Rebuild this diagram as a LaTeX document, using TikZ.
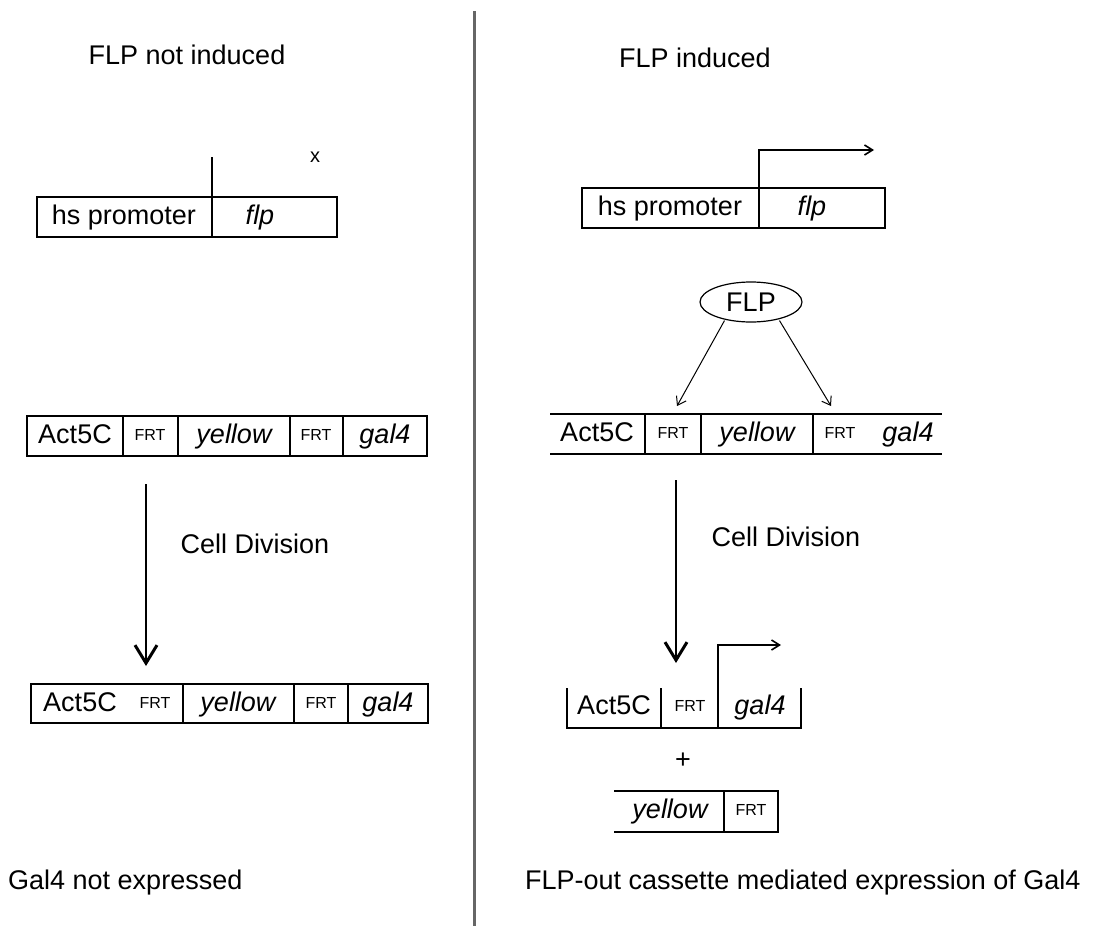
\documentclass[tikz,border=0pt]{standalone}
\usepackage{fontspec}
\setmainfont{Liberation Sans}
\usetikzlibrary{arrows.meta,shapes.geometric}
\begin{document}
\begin{tikzpicture}[x=1pt,y=-1pt,
  lbl/.style={inner sep=0pt,text height=19pt,text depth=5pt,font=\fontsize{27}{30}\selectfont},
  frt/.style={inner sep=0pt,text height=11pt,text depth=2pt,font=\fontsize{16}{18}\selectfont},
  gene/.style={inner sep=0pt,text height=19pt,text depth=5pt,font=\fontsize{27}{30}\selectfont\itshape},
  boxline/.style={line width=2pt},
  bigarrow/.style={line width=2.8pt,-{Straight Barb[length=18pt,width=22pt,line width=3pt]}},
  thinarrow/.style={line width=1pt,-{Straight Barb[length=8pt,width=11pt]}},
  promarrow/.style={line width=1.6pt,-{Straight Barb[length=8pt,width=10pt]}}
]
\useasboundingbox (0,0) rectangle (1112,926);
\fill[white] (0,0) rectangle (1112,926);

% divider
\draw[line width=3pt,gray!80!black] (474,11) -- (474,926);

% ===== Left side =====
\node[lbl] (t1) at (187,57) {FLP not induced};
% hs promoter box (not induced)
\draw[boxline] (37,197) rectangle (337,237);
\draw[line width=1.2pt] (212,237) -- (212,157);
\node[lbl] (hs1) at (124,217) {hs promoter};
\node[gene] (flp1) at (260,217) {flp};
\node[inner sep=0pt,font=\fontsize{20}{22}\selectfont] (x1) at (315,157) {x};

% 5-segment cassette
\draw[boxline] (27,416) rectangle (427,456);
\foreach \x in {123,178,290,343} \draw[boxline] (\x,416) -- (\x,456);
\node[lbl] (a1) at (75,436) {Act5C};
\node[frt] (f1a) at (150,436) {FRT};
\node[gene] (y1) at (234,436) {yellow};
\node[frt] (f1b) at (316,436) {FRT};
\node[gene] (g1) at (385,436) {gal4};

\coordinate (arrL1) at (146,484);
\coordinate (arrL2) at (146,666);
\draw[bigarrow] (arrL1) -- (arrL2);
\node[lbl] (cd1) at (255,546) {Cell Division};

% after division (no excision)
\draw[boxline] (31,684) rectangle (428,723);
\foreach \x in {183,294,348} \draw[boxline] (\x,684) -- (\x,723);
\node[lbl] (a2) at (80,704) {Act5C};
\node[frt] (f2a) at (155,704) {FRT};
\node[gene] (y2) at (238,704) {yellow};
\node[frt] (f2b) at (321,704) {FRT};
\node[gene] (g2) at (388,704) {gal4};

\node[lbl,anchor=west] (res1) at (8,882) {Gal4 not expressed};

% ===== Right side =====
\node[lbl] (t2) at (695,60) {FLP induced};
\draw[boxline] (582,188) rectangle (885,228);
\draw[boxline] (759,188) -- (759,228);
\node[lbl] (hs2) at (670,208) {hs promoter};
\node[gene] (flp2) at (812,208) {flp};
\coordinate (pr1) at (759,188);
\coordinate (pr2) at (874,150);
\draw[promarrow] (pr1) |- (pr2);

\node[draw,ellipse,line width=1.2pt,minimum width=102pt,minimum height=40pt,inner sep=0pt,font=\fontsize{27}{30}\selectfont] (flp) at (751,302) {FLP};
\coordinate (frt1) at (677,406);
\coordinate (frt2) at (831,406);
\draw[thinarrow] (flp.south west) ++(10,4) -- (frt1);
\draw[thinarrow] (flp.south east) ++(-8,4) -- (frt2);

% 5-segment cassette (right)
\draw[boxline] (550,414) -- (942,414);
\draw[boxline] (550,454) -- (942,454);
\foreach \x in {645,701,813} \draw[boxline] (\x,414) -- (\x,454);
\node[lbl] (a3) at (597,434) {Act5C};
\node[frt] (f3a) at (673,434) {FRT};
\node[gene] (y3) at (757,434) {yellow};
\node[frt] (f3b) at (840,434) {FRT};
\node[gene] (g3) at (908,434) {gal4};

\coordinate (arrR1) at (676,480);
\coordinate (arrR2) at (676,663);
\draw[bigarrow] (arrR1) -- (arrR2);
\node[lbl] (cd2) at (786,539) {Cell Division};

% excised product
\draw[boxline] (567,688) -- (567,728) -- (801,728) -- (801,688);
\draw[boxline] (661,688) -- (661,728);
\coordinate (pr3) at (718,728);
\coordinate (pr4) at (781,645);
\draw[promarrow] (pr3) |- (pr4);
\node[lbl] (a4) at (614,707) {Act5C};
\node[frt] (f4a) at (690,707) {FRT};
\node[gene] (g4) at (760,707) {gal4};

\node[lbl] (plus) at (683,761) {+};

\draw[boxline] (614,791) -- (778,791) -- (778,832) -- (614,832);
\draw[boxline] (724,791) -- (724,832);
\node[gene] (y4) at (670,811) {yellow};
\node[frt] (f4b) at (751,811) {FRT};

\node[lbl,anchor=west] (res2) at (525,882) {FLP-out cassette mediated expression of Gal4};
\end{tikzpicture}
\end{document}
